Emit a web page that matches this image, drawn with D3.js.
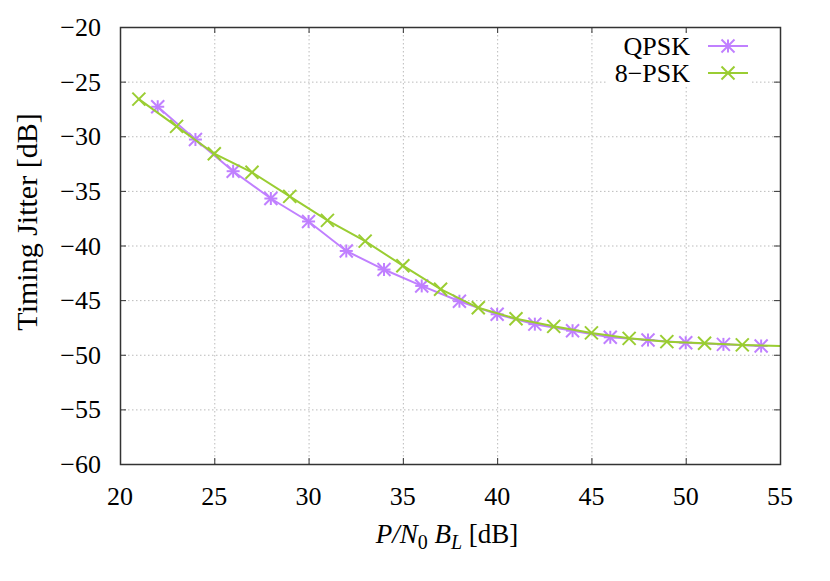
<!DOCTYPE html>
<html>
<head>
<meta charset="utf-8">
<script src="https://cdn.jsdelivr.net/npm/d3@7"></script>
<style>
  body { margin: 0; background: #fff; }
  text { font-family: "Liberation Serif", "DejaVu Serif", serif; fill: #000; }
</style>
</head>
<body>
<svg id="chart" width="830" height="581"></svg>
<script>
(function() {
  // data
  var qpskX = [22, 24, 26, 28, 30, 32, 34, 36, 38, 40, 42, 44, 46, 48, 50, 52, 54];
  var qpskY = [-27.3, -30.3, -33.2, -35.7, -37.8, -40.5, -42.2, -43.7, -45.1, -46.3, -47.2, -47.8, -48.4, -48.65, -48.9, -49.05, -49.2];
  var psk8X = [21, 23, 25, 27, 29, 31, 33, 35, 37, 39, 41, 43, 45, 47, 49, 51, 53, 57];
  var psk8Y = [-26.6, -29.1, -31.6, -33.3, -35.5, -37.7, -39.6, -41.85, -44.0, -45.7, -46.7, -47.4, -48.0, -48.5, -48.8, -48.95, -49.1, -49.3];
  var xTicks = [20, 25, 30, 35, 40, 45, 50, 55];
  var yTicks = [-20, -25, -30, -35, -40, -45, -50, -55, -60];
  var seriesNames = ["QPSK", "8\u2212PSK"];

  var left = 120, right = 780, top = 27, bottom = 464;
  var fs = 26;
  var svg = d3.select("#chart");
  var x = d3.scaleLinear().domain([20, 55]).range([left, right]);
  var y = d3.scaleLinear().domain([-60, -20]).range([bottom, top]);

  svg.append("defs").append("clipPath").attr("id", "plotclip")
    .append("rect").attr("x", left).attr("y", top)
    .attr("width", right - left).attr("height", bottom - top);

  // grid
  var grid = svg.append("g").attr("stroke", "#bbb").attr("stroke-width", 1)
    .attr("stroke-dasharray", "1.5,2.5");
  grid.selectAll("line.gx").data(xTicks.slice(1, -1)).enter().append("line")
    .attr("x1", function(d) { return x(d) + 0.5; }).attr("x2", function(d) { return x(d) + 0.5; })
    .attr("y1", top).attr("y2", bottom);
  grid.selectAll("line.gy").data(yTicks.slice(1, -1)).enter().append("line")
    .attr("y1", function(d) { return y(d) + 0.5; }).attr("y2", function(d) { return y(d) + 0.5; })
    .attr("x1", left).attr("x2", right);

  // legend backing
  svg.append("rect").attr("x", 608).attr("y", 33).attr("width", 142).attr("height", 54).attr("fill", "#fff");

  // ticks (mirrored, inward)
  var tk = svg.append("g").attr("stroke", "#333").attr("stroke-width", 1);
  xTicks.forEach(function(d) {
    tk.append("line").attr("x1", x(d) + 0.5).attr("x2", x(d) + 0.5).attr("y1", bottom).attr("y2", bottom - 6);
    tk.append("line").attr("x1", x(d) + 0.5).attr("x2", x(d) + 0.5).attr("y1", top).attr("y2", top + 6);
  });
  yTicks.forEach(function(d) {
    tk.append("line").attr("y1", y(d) + 0.5).attr("y2", y(d) + 0.5).attr("x1", left).attr("x2", left + 6);
    tk.append("line").attr("y1", y(d) + 0.5).attr("y2", y(d) + 0.5).attr("x1", right).attr("x2", right - 6);
  });

  // tick labels
  svg.append("g").selectAll("text").data(xTicks).enter().append("text")
    .attr("x", function(d) { return x(d); }).attr("y", 505)
    .attr("text-anchor", "middle").attr("font-size", fs)
    .text(function(d) { return d; });
  svg.append("g").selectAll("text").data(yTicks).enter().append("text")
    .attr("x", 101).attr("y", function(d) { return y(d) + 9; })
    .attr("text-anchor", "end").attr("font-size", fs)
    .text(function(d) { return d < 0 ? "\u2212" + Math.abs(d) : d; });

  // axis labels
  svg.append("text").attr("transform", "translate(37,222) rotate(-90)")
    .attr("text-anchor", "middle").attr("font-size", 30).text("Timing Jitter [dB]");
  var xl = svg.append("text").attr("x", 447).attr("y", 543).attr("text-anchor", "middle").attr("font-size", 27);
  xl.append("tspan").attr("font-style", "italic").text("P");
  xl.append("tspan").attr("font-style", "italic").text("/");
  xl.append("tspan").attr("font-style", "italic").text("N");
  xl.append("tspan").attr("font-size", 20).attr("dy", 6).text("0");
  xl.append("tspan").attr("dy", -6).text(" ");
  xl.append("tspan").attr("font-style", "italic").text("B");
  xl.append("tspan").attr("font-style", "italic").attr("font-size", 20).attr("dy", 6).text("L");
  xl.append("tspan").attr("dy", -6).text(" [dB]");

  var colors = ["#c080ff", "#9acd32"];
  var series = [
    { name: seriesNames[0], xs: qpskX, ys: qpskY, color: colors[0], mark: "star" },
    { name: seriesNames[1], xs: psk8X, ys: psk8Y, color: colors[1], mark: "cross" }
  ];

  function marker(g, cx, cy, type, color) {
    var r = 6.5;
    var m = g.append("g").attr("stroke", color).attr("stroke-width", 2);
    m.append("line").attr("x1", cx - r).attr("y1", cy - r).attr("x2", cx + r).attr("y2", cy + r);
    m.append("line").attr("x1", cx - r).attr("y1", cy + r).attr("x2", cx + r).attr("y2", cy - r);
    if (type === "star") {
      m.append("line").attr("x1", cx - r).attr("y1", cy).attr("x2", cx + r).attr("y2", cy);
      m.append("line").attr("x1", cx).attr("y1", cy - r).attr("x2", cx).attr("y2", cy + r);
    }
  }

  var plot = svg.append("g").attr("clip-path", "url(#plotclip)");
  var line = d3.line().x(function(d) { return x(d[0]); }).y(function(d) { return y(d[1]); });
  series.forEach(function(s) {
    var pts = s.xs.map(function(v, i) { return [v, s.ys[i]]; });
    var g = plot.append("g");
    g.append("path").datum(pts).attr("d", line).attr("fill", "none")
      .attr("stroke", s.color).attr("stroke-width", 2);
    pts.forEach(function(p) { marker(g, x(p[0]), y(p[1]), s.mark, s.color); });
  });

  // border
  svg.append("rect").attr("x", left + 0.5).attr("y", top + 0.5)
    .attr("width", right - left).attr("height", bottom - top)
    .attr("fill", "none").attr("stroke", "#333").attr("stroke-width", 1.5);

  // legend
  series.forEach(function(s, i) {
    var ly = 46 + i * 27;
    svg.append("text").attr("x", 690).attr("y", ly + 9).attr("text-anchor", "end")
      .attr("font-size", fs).text(s.name);
    svg.append("line").attr("x1", 708).attr("x2", 748).attr("y1", ly).attr("y2", ly)
      .attr("stroke", s.color).attr("stroke-width", 2);
    marker(svg, 728, ly, s.mark, s.color);
  });
})();
</script>
</body>
</html>
